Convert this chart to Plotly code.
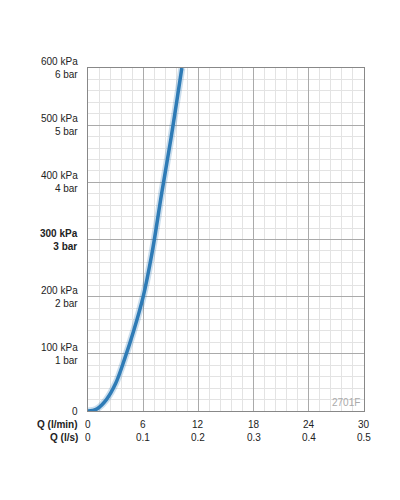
import plotly.graph_objects as go

flow_lmin = [0, 0.5, 1.0, 2.0, 3.0, 4.0, 5.0, 6.0, 7.0, 8.0, 9.0, 10.2]
pressure_kpa = [0, 1, 4, 20, 48, 92, 142, 200, 280, 380, 475, 600]

y_ticks = [0, 100, 200, 300, 400, 500, 600]
y_labels = ["0", "100 kPa<br>1 bar", "200 kPa<br>2 bar", "<b>300 kPa<br>3 bar</b>",
            "400 kPa<br>4 bar", "500 kPa<br>5 bar", "600 kPa<br>6 bar"]
x_ticks = [0, 6, 12, 18, 24, 30]
x_lmin = ["0", "6", "12", "18", "24", "30"]
x_ls = ["0", "0.1", "0.2", "0.3", "0.4", "0.5"]

fig = go.Figure()
fig.add_trace(go.Scatter(x=flow_lmin, y=pressure_kpa, mode="lines",
                         line=dict(color="rgba(46,125,185,0.25)", width=7, shape="spline", smoothing=1),
                         hoverinfo="skip"))
fig.add_trace(go.Scatter(x=flow_lmin, y=pressure_kpa, mode="lines",
                         line=dict(color="#2e7bb6", width=3.5, shape="spline", smoothing=1)))

font = dict(family="Liberation Sans, Arial", size=10, color="#222")
for v, t in zip(y_ticks, y_labels):
    fig.add_annotation(x=0, xref="paper", y=v, yref="y", text=t, showarrow=False,
                       xanchor="right", yanchor="middle", xshift=-8,
                       align="right", font=font)
for v, a, b in zip(x_ticks, x_lmin, x_ls):
    fig.add_annotation(x=v, y=0, yref="paper", text=a, showarrow=False, yanchor="top",
                       yshift=-6, font=font)
    fig.add_annotation(x=v, y=0, yref="paper", text=b, showarrow=False, yanchor="top",
                       yshift=-19, font=font)
fig.add_annotation(x=0, xref="paper", y=0, yref="paper", text="<b>Q (l/min)</b>",
                   showarrow=False, xanchor="right", yanchor="top", xshift=-8, yshift=-6, font=font)
fig.add_annotation(x=0, xref="paper", y=0, yref="paper", text="<b>Q (l/s)</b>",
                   showarrow=False, xanchor="right", yanchor="top", xshift=-8, yshift=-19, font=font)
fig.add_annotation(x=1, xref="paper", y=0, yref="paper", text="2701F", showarrow=False,
                   xanchor="right", yanchor="bottom", xshift=-2, yshift=1,
                   font=dict(family="Liberation Sans, Arial", size=10, color="#aaa"))

fig.update_layout(
    width=400, height=500, showlegend=False,
    margin=dict(l=80, r=44, t=60, b=97),
    plot_bgcolor="white", paper_bgcolor="white",
    xaxis=dict(range=[0, 30], tickvals=x_ticks, showticklabels=False, showgrid=True,
               gridcolor="#aaa", gridwidth=1, zeroline=False, showline=True,
               linecolor="#888", mirror=True,
               minor=dict(dtick=1.2, showgrid=True, gridcolor="#e3e3e3")),
    yaxis=dict(range=[0, 600], tickvals=y_ticks, showticklabels=False, showgrid=True,
               gridcolor="#aaa", gridwidth=1, zeroline=False, showline=True,
               linecolor="#888", mirror=True,
               minor=dict(dtick=20, showgrid=True, gridcolor="#e3e3e3")),
)
fig.write_html("out.html")
